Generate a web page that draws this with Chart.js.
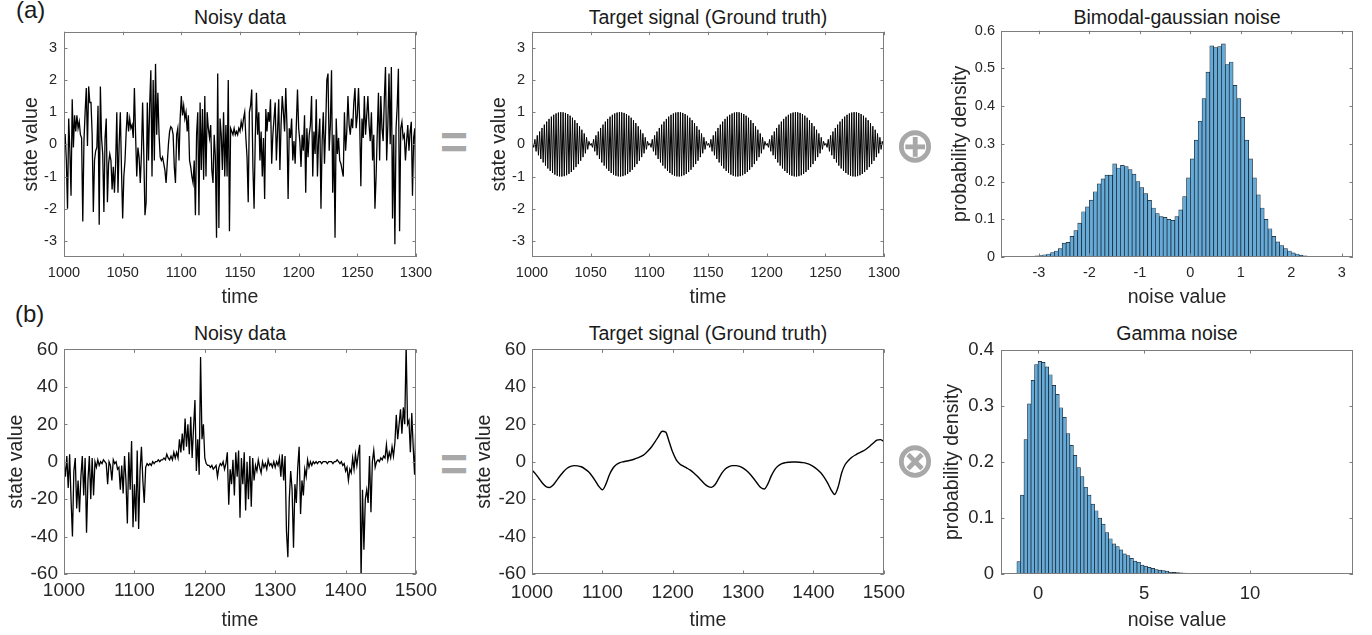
<!DOCTYPE html>
<html>
<head>
<meta charset="utf-8">
<script src="https://cdn.jsdelivr.net/npm/chart.js@4.4.0/dist/chart.umd.min.js"></script>
<style>
  html, body { margin: 0; padding: 0; background: #fff; }
  #fig { position: relative; width: 1372px; height: 635px; overflow: hidden;
         font-family: "Liberation Sans", Arial, Helvetica, sans-serif; color: #1a1a1a; }
  #fig canvas { position: absolute; }
  .lbl { position: absolute; white-space: nowrap; line-height: 1; }
  .title { font-size: 19.5px; transform: translateX(-50%); }
  .tag { font-size: 24px; }
  .op { color: #a8a8a8; transform: translate(-50%, -50%); }
</style>
</head>
<body>
<div id="fig">
  <div class="lbl tag" style="left:16px; top:-2px;">(a)</div>
  <div class="lbl tag" style="left:15px; top:302px;">(b)</div>

  <div class="lbl title" style="left:240px; top:8px;">Noisy data</div>
  <div class="lbl title" style="left:708px; top:8px;">Target signal (Ground truth)</div>
  <div class="lbl title" style="left:1177px; top:8px;">Bimodal-gaussian noise</div>
  <div class="lbl title" style="left:240px; top:324px;">Noisy data</div>
  <div class="lbl title" style="left:708px; top:324px;">Target signal (Ground truth)</div>
  <div class="lbl title" style="left:1177px; top:324px;">Gamma noise</div>

  <div class="lbl op" style="left:454px; top:143px; font-size:48px; font-weight:bold;">=</div>
  <div class="lbl op" style="left:454px; top:465px; font-size:48px; font-weight:bold;">=</div>
  <div class="lbl op" style="left:915px; top:145px; font-size:49px; font-family:'DejaVu Sans'; font-weight:bold;">⊕</div>
  <div class="lbl op" style="left:915px; top:460px; font-size:49px; font-family:'DejaVu Sans'; font-weight:bold;">⊗</div>
</div>
<script>
// (a) noisy data, one sample per time step from t = 1000
const noisyAStart = 1000, noisyAStep = 1;
const noisyA = [
  0.3, 0.3, -0.5, -2.0, 0.8, -0.2, -1.6, 1.4, -0.1, 0.9,
  0.4, 0.9, 0.5, 0.7, 0.3, 0.2, -2.4, 0.1, 1.0, 1.75,
  -0.05, 1.8, 1.3, 1.3, 0.3, -2.1, -0.5, -0.2, -0.1, 1.2,
  -2.5, 1.8, 0.2, -0.3, -2.1, 0.2, 0.8, -1.8, -0.6, -0.3,
  -0.5, -1.4, -0.7, -1.5, -0.6, 1.0, -1.5, 0.0, 1.0, -0.8,
  -2.3, -1.0, -0.5, 0.4, 1.0, 0.4, 0.8, 0.5, 0.6, 0.2,
  1.75, 0.3, -1.0, -0.1, -0.4, -1.2, -0.3, 1.3, -0.3, -2.2,
  -1.8, 1.3, -0.5, 1.2, 2.3, -1.0, 2.0, -0.5, 2.5, 0.3,
  1.6, 0.3, -0.4, -0.5, -0.4, -0.6, -0.8, -1.2, -0.6, 0.0,
  0.4, 0.55, 0.5, 0.3, -0.7, -1.2, 0.3, 0.5, -0.5, 0.8,
  1.5, 0.9, 1.2, 0.8, 1.0, 0.4, 0.9, -0.5, -0.7, -1.0,
  -1.2, -0.5, -2.2, 0.3, 1.0, -2.2, 1.3, -0.8, 1.1, -1.1,
  1.5, -1.0, 1.0, 0.5, 0.2, 0.6, -0.8, -1.2, 0.3, -0.4,
  -2.9, 2.2, -2.6, 0.8, 0.3, -0.8, 1.0, -1.0, 0.6, -1.0,
  2.0, -2.7, 0.5, 0.4, 0.3, 0.5, 0.3, 0.4, 0.3, 0.5,
  0.4, 0.7, 0.5, 0.8, 1.0, 0.2, -0.4, -1.8, 1.0, 1.2,
  1.7, -0.7, -2.0, 0.2, 1.6, 0.3, 1.0, -0.5, 0.4, -1.0,
  0.2, -1.7, 1.1, 0.4, 1.0, 0.7, 1.4, -0.6, 0.3, 0.8,
  1.3, -0.5, 0.4, 1.4, -0.8, 0.6, 1.5, 1.0, 0.4, 1.75,
  0.6, -1.7, 0.5, 0.2, 0.8, -0.5, 0.1, -0.6, 0.6, 1.7,
  0.5, 0.1, -0.7, 0.3, -0.2, 0.9, -1.5, 0.5, -0.4, 0.3,
  0.6, 1.5, -1.0, 0.4, -0.3, 1.4, -1.0, 0.2, 0.8, -2.0,
  0.1, 1.0, -0.6, 0.5, 2.0, 2.2, -0.2, 0.6, 2.3, -1.5,
  0.3, -2.9, 0.8, -0.3, 0.2, -0.5, -0.6, -0.8, -1.0, 1.0,
  -0.2, 0.4, 1.5, 0.6, 0.3, 0.8, 0.5, 1.3, 1.75, 0.5,
  0.9, 1.75, 0.7, -1.3, 0.8, 0.2, 1.5, 0.3, 0.9, 1.5,
  0.6, 0.1, 1.0, -0.5, 0.3, -2.0, -1.0, 0.4, 1.6, -0.5,
  1.5, 0.5, 0.1, 1.4, 2.4, -0.5, 0.6, 2.2, 0.0, 2.4,
  -2.3, 0.3, -3.1, 0.5, 1.2, 2.35, -2.7, 0.5, 0.7, 0.2,
  0.3, -0.5, 0.1, 0.6, -0.2, 0.4, 0.7, -1.6, 0.2, 0.5,
  -1.9
];

// (a) target signal: one sample per time step from t = 1000.5, six lobes of 50 samples
const targetAStart = 1000.5, targetAStep = 1;
const targetA = [
  0.031, -0.094, 0.156, -0.218, 0.279, -0.339, 0.397, -0.454, 0.509, -0.562, 0.613, -0.661, 0.707, -0.75, 0.79, -0.827, 0.861, -0.891, 0.918, -0.941, 0.96, -0.976, 0.988, -0.996, 1.0,
  -1.0, 0.996, -0.988, 0.976, -0.96, 0.941, -0.918, 0.891, -0.861, 0.827, -0.79, 0.75, -0.707, 0.661, -0.613, 0.562, -0.509, 0.454, -0.397, 0.339, -0.279, 0.218, -0.156, 0.094, -0.031,
  0.031, -0.094, 0.156, -0.218, 0.279, -0.339, 0.397, -0.454, 0.509, -0.562, 0.613, -0.661, 0.707, -0.75, 0.79, -0.827, 0.861, -0.891, 0.918, -0.941, 0.96, -0.976, 0.988, -0.996, 1.0,
  -1.0, 0.996, -0.988, 0.976, -0.96, 0.941, -0.918, 0.891, -0.861, 0.827, -0.79, 0.75, -0.707, 0.661, -0.613, 0.562, -0.509, 0.454, -0.397, 0.339, -0.279, 0.218, -0.156, 0.094, -0.031,
  0.031, -0.094, 0.156, -0.218, 0.279, -0.339, 0.397, -0.454, 0.509, -0.562, 0.613, -0.661, 0.707, -0.75, 0.79, -0.827, 0.861, -0.891, 0.918, -0.941, 0.96, -0.976, 0.988, -0.996, 1.0,
  -1.0, 0.996, -0.988, 0.976, -0.96, 0.941, -0.918, 0.891, -0.861, 0.827, -0.79, 0.75, -0.707, 0.661, -0.613, 0.562, -0.509, 0.454, -0.397, 0.339, -0.279, 0.218, -0.156, 0.094, -0.031,
  0.031, -0.094, 0.156, -0.218, 0.279, -0.339, 0.397, -0.454, 0.509, -0.562, 0.613, -0.661, 0.707, -0.75, 0.79, -0.827, 0.861, -0.891, 0.918, -0.941, 0.96, -0.976, 0.988, -0.996, 1.0,
  -1.0, 0.996, -0.988, 0.976, -0.96, 0.941, -0.918, 0.891, -0.861, 0.827, -0.79, 0.75, -0.707, 0.661, -0.613, 0.562, -0.509, 0.454, -0.397, 0.339, -0.279, 0.218, -0.156, 0.094, -0.031,
  0.031, -0.094, 0.156, -0.218, 0.279, -0.339, 0.397, -0.454, 0.509, -0.562, 0.613, -0.661, 0.707, -0.75, 0.79, -0.827, 0.861, -0.891, 0.918, -0.941, 0.96, -0.976, 0.988, -0.996, 1.0,
  -1.0, 0.996, -0.988, 0.976, -0.96, 0.941, -0.918, 0.891, -0.861, 0.827, -0.79, 0.75, -0.707, 0.661, -0.613, 0.562, -0.509, 0.454, -0.397, 0.339, -0.279, 0.218, -0.156, 0.094, -0.031,
  0.031, -0.094, 0.156, -0.218, 0.279, -0.339, 0.397, -0.454, 0.509, -0.562, 0.613, -0.661, 0.707, -0.75, 0.79, -0.827, 0.861, -0.891, 0.918, -0.941, 0.96, -0.976, 0.988, -0.996, 1.0,
  -1.0, 0.996, -0.988, 0.976, -0.96, 0.941, -0.918, 0.891, -0.861, 0.827, -0.79, 0.75, -0.707, 0.661, -0.613, 0.562, -0.509, 0.454, -0.397, 0.339, -0.279, 0.218, -0.156, 0.094, -0.031
];

// (a) bimodal noise histogram, bins of width 1/13 starting at -44/13
const bimodalBinStart = -44 / 13, bimodalBinWidth = 1 / 13;
const bimodalDensity = [
  0.0005, 0.001, 0.001, 0.002, 0.003, 0.004, 0.006, 0.008, 0.012, 0.016,
  0.022, 0.037, 0.039, 0.055, 0.07, 0.09, 0.12, 0.133, 0.151, 0.173,
  0.194, 0.207, 0.217, 0.217, 0.247, 0.236, 0.243, 0.24, 0.232, 0.22,
  0.2, 0.184, 0.168, 0.15, 0.13, 0.115, 0.107, 0.105, 0.1, 0.097,
  0.107, 0.125, 0.16, 0.21, 0.26, 0.31, 0.36, 0.42, 0.49, 0.56,
  0.555, 0.558, 0.565, 0.51, 0.517, 0.455, 0.42, 0.37, 0.31, 0.26,
  0.21, 0.165, 0.13, 0.1, 0.075, 0.055, 0.04, 0.03, 0.022, 0.016,
  0.011, 0.008, 0.005, 0.003, 0.002, 0.001
];

// (b) noisy data, one sample every 2 time steps from t = 1000
const noisyBStart = 1000, noisyBStep = 2;
const noisyB = [
  0, -8, 3, -14, 4, -20, -40, -5, 2, -25,
  -10, -27, -8, 3, -18, 2, -38, -10, 3, -20,
  2, -18, 0, -3, 1, -2, 0, -1, 1, 0,
  -1, -12, 0, -2, -10, 1, -1, 0, -4, -3,
  -15, -2, -17, 3, -10, -33, 5, -15, 11, -35,
  -12, -32, 6, -36, -5, 8, -10, -22, -3, -1,
  -2, -1, -2, 0, -1, 0, 0, 1, 0, 1,
  1, 2, 1, 4, 2, 1, 3, 1, 5, 2,
  5, 2, 12, 5, 15, 6, 23, 8, 20, 4,
  24, 2, 18, 33, -5, 12, -7, 56, 12, 20,
  2, -1, -2, -2, -3, -2, -4, -3, -2, -8,
  -3, -1, -2, 0, -4, -1, 5, -23, -4, -12,
  1, -18, 5, -8, 6, -30, 2, -12, 5, -26,
  0, -20, 3, -24, 2, -10, -2, -5, 1, -3,
  -6, 0, -3, -1, -4, 1, -2, -1, -3, 0,
  -3, 0, -2, 2, -8, 4, -10, 3, -37, -51,
  -20, -5, -15, -46, -12, -22, -3, 8, -28, -10,
  -18, -4, -8, 1, -3, 0, -2, 0, -1, 0,
  -1, 0, 0, -1, 0, 0, 0, -1, 0, 0,
  0, -1, 0, 0, 1, 0, -1, 0, -2, -1,
  -5, -3, -10, -4, -6, 2, -4, 4, -2, 4,
  9, -62, -15, -47, -20, -15, -22, 3, -27, 0,
  6, -3, 0, 1, 0, 2, 1, 3, 2, 9,
  1, 5, 2, 8, 3, 10, 25, 12, 20, 28,
  15, 29, 20, 62, 20, 22, 5, 26, 8, -7,
  24
];

// (b) target signal, one sample every 5 time steps from t = 1000
const targetBStart = 1000, targetBStep = 5;
const targetB = [
  -4.5, -6.5, -9, -11.5, -13.3, -13.8, -12.5, -10, -7.5, -5.2,
  -3.5, -2.5, -2.1, -2.2, -2.7, -3.8, -5.3, -7.5, -10.2, -13.2,
  -15, -12, -7, -3.5, -1.5, -0.5, 0.0, 0.4, 0.8, 1.3,
  2.0, 2.8, 4.0, 5.8, 8.0, 10.7, 13.7, 16.3, 15.8, 10.5,
  5.0, 1.0, -1.2, -2.4, -3.4, -4.5, -6.0, -7.8, -9.8, -11.8,
  -13.2, -13.7, -12.3, -9.2, -6.0, -3.8, -2.6, -2.1, -2.1, -2.5,
  -3.4, -4.8, -6.7, -9.0, -11.5, -13.8, -14.6, -12.0, -7.6, -4.2,
  -2.2, -1.0, -0.5, -0.3, -0.2, -0.2, -0.3, -0.5, -0.9, -1.6,
  -2.6, -4.0, -5.8, -8.2, -11.3, -15.0, -17.5, -13.5, -6.0, -1.5,
  0.8, 2.5, 3.7, 4.7, 5.6, 6.8, 8.3, 10.0, 11.5, 11.8,
  10.8
];

// (b) gamma noise histogram, bins of width 1/6 starting at -1
const gammaBinStart = -1, gammaBinWidth = 1 / 6;
const gammaDensity = [
  0.022, 0.141, 0.24, 0.304, 0.346, 0.374, 0.38, 0.378, 0.37, 0.356,
  0.337, 0.321, 0.297, 0.28, 0.251, 0.23, 0.212, 0.19, 0.174, 0.155,
  0.141, 0.125, 0.113, 0.1, 0.089, 0.074, 0.063, 0.054, 0.049, 0.043,
  0.036, 0.033, 0.028, 0.023, 0.021, 0.016, 0.014, 0.012, 0.01, 0.008,
  0.007, 0.006, 0.005, 0.0035, 0.003, 0.0025, 0.002, 0.0016, 0.0013, 0.001,
  0.0008, 0.0007, 0.0005, 0.0004, 0.0003, 0.0003, 0.0002, 0.0002, 0.0001
];

// tick labels
const timeTicksA = [1000, 1050, 1100, 1150, 1200, 1250, 1300];
const stateTicksA = [-3, -2, -1, 0, 1, 2, 3];
const noiseTicksA = [-3, -2, -1, 0, 1, 2, 3];
const densityTicksA = [0, 0.1, 0.2, 0.3, 0.4, 0.5, 0.6];
const timeTicksB = [1000, 1100, 1200, 1300, 1400, 1500];
const stateTicksB = [-60, -40, -20, 0, 20, 40, 60];
const noiseTicksB = [0, 5, 10];
const densityTicksB = [0, 0.1, 0.2, 0.3, 0.4];

const FONT = '"Liberation Sans", Arial, Helvetica, sans-serif';
const fig = document.getElementById('fig');

const series = (vals, start, step) => vals.map((v, i) => ({ x: start + i * step, y: v }));
const bins = (vals, start, w) => vals.map((v, i) => ({ x: start + (i + 0.5) * w, y: v }));

// matlab style box with inward ticks on all four sides
const framePlugin = {
  id: 'frame',
  afterDatasetsDraw(chart) {
    const { ctx, chartArea: a, scales: { x, y } } = chart;
    const L = 3.5;
    ctx.save();
    ctx.strokeStyle = '#7d7d7d';
    ctx.lineWidth = 1;
    ctx.beginPath();
    x.ticks.forEach(t => {
      const px = Math.round(x.getPixelForValue(t.value)) + 0.5;
      ctx.moveTo(px, a.bottom); ctx.lineTo(px, a.bottom - L);
      ctx.moveTo(px, a.top); ctx.lineTo(px, a.top + L);
    });
    y.ticks.forEach(t => {
      const py = Math.round(y.getPixelForValue(t.value)) + 0.5;
      ctx.moveTo(a.left, py); ctx.lineTo(a.left + L, py);
      ctx.moveTo(a.right, py); ctx.lineTo(a.right - L, py);
    });
    ctx.stroke();
    ctx.strokeRect(Math.round(a.left) + 0.5, Math.round(a.top) + 0.5,
                   Math.round(a.right - a.left) - 1, Math.round(a.bottom - a.top) - 1);
    ctx.restore();
  }
};

function panel(o) {
  const [pl, pt, pr, pb] = o.plot;
  const titleSize = 19.5;
  const cl = Math.round(o.yTitleX - titleSize / 2);
  const ct = pt - 14, cr = pr + 28;
  const cb = Math.round(o.xTitleY + titleSize / 2);
  const cv = document.createElement('canvas');
  cv.width = cr - cl; cv.height = cb - ct;
  cv.style.left = cl + 'px'; cv.style.top = ct + 'px';
  fig.appendChild(cv);

  const tickFont = { family: FONT, size: o.tickSize };
  const titleFont = { family: FONT, size: titleSize, lineHeight: 1 };
  const axis = (min, max, ticks, pad, text, fit) => ({
    type: 'linear', offset: false, min, max,
    afterBuildTicks: s => { s.ticks = ticks.map(v => ({ value: v })); },
    afterFit: fit,
    grid: { display: false, drawTicks: false },
    border: { display: false },
    ticks: { font: tickFont, color: '#262626', padding: pad, maxRotation: 0, autoSkip: false,
             callback: v => String(v) },
    title: { display: true, text, font: titleFont, color: '#262626', padding: 0 }
  });

  new Chart(cv, {
    type: o.type,
    data: { datasets: [o.dataset] },
    options: {
      responsive: false, animation: false, events: [],
      layout: { padding: { left: 0, top: pt - ct, right: cr - pr, bottom: 0 } },
      plugins: { legend: { display: false }, tooltip: { enabled: false } },
      scales: {
        x: axis(o.xMin, o.xMax, o.xTicks, o.xPad, o.xTitle, s => { s.height = cb - pb; }),
        y: axis(o.yMin, o.yMax, o.yTicks, o.yPad, o.yTitle, s => { s.width = pl - cl; })
      }
    },
    plugins: [framePlugin]
  });
}

const lineSet = (data, width, smooth) => ({
  data, borderColor: '#000', borderWidth: width, pointRadius: 0, fill: false,
  tension: smooth ? 0.4 : 0, cubicInterpolationMode: smooth ? 'monotone' : 'default'
});
const barSet = data => ({
  data, backgroundColor: '#66aad7', borderColor: '#14202c', borderWidth: 0.7,
  barPercentage: 1, categoryPercentage: 1, borderSkipped: 'start'
});

// row (a)
panel({ type: 'line', plot: [64, 30, 416, 257], yTitleX: 32, xTitleY: 297, tickSize: 14.5,
  xMin: 1000, xMax: 1300, xTicks: timeTicksA, xPad: 7, xTitle: 'time',
  yMin: -3.5, yMax: 3.5, yTicks: stateTicksA, yPad: 7, yTitle: 'state value',
  dataset: lineSet(series(noisyA, noisyAStart, noisyAStep), 1.3) });
panel({ type: 'line', plot: [532, 30, 884, 257], yTitleX: 500, xTitleY: 297, tickSize: 14.5,
  xMin: 1000, xMax: 1300, xTicks: timeTicksA, xPad: 7, xTitle: 'time',
  yMin: -3.5, yMax: 3.5, yTicks: stateTicksA, yPad: 7, yTitle: 'state value',
  dataset: lineSet(series(targetA, targetAStart, targetAStep), 1) });
panel({ type: 'bar', plot: [1001, 30, 1353, 257], yTitleX: 961, xTitleY: 297, tickSize: 14.5,
  xMin: -3.75, xMax: 3.22, xTicks: noiseTicksA, xPad: 7, xTitle: 'noise value',
  yMin: 0, yMax: 0.6, yTicks: densityTicksA, yPad: 6, yTitle: 'probability density',
  dataset: barSet(bins(bimodalDensity, bimodalBinStart, bimodalBinWidth)) });

// row (b)
panel({ type: 'line', plot: [64, 346, 416, 574], yTitleX: 17, xTitleY: 620, tickSize: 19,
  xMin: 1000, xMax: 1500, xTicks: timeTicksB, xPad: 5, xTitle: 'time',
  yMin: -60, yMax: 60, yTicks: stateTicksB, yPad: 6, yTitle: 'state value',
  dataset: lineSet(series(noisyB, noisyBStart, noisyBStep), 1.3) });
panel({ type: 'line', plot: [532, 346, 884, 574], yTitleX: 485, xTitleY: 620, tickSize: 19,
  xMin: 1000, xMax: 1500, xTicks: timeTicksB, xPad: 7, xTitle: 'time',
  yMin: -60, yMax: 60, yTicks: stateTicksB, yPad: 6, yTitle: 'state value',
  dataset: lineSet(series(targetB, targetBStart, targetBStep), 1.4, true) });
panel({ type: 'bar', plot: [1001, 346, 1353, 574], yTitleX: 953, xTitleY: 620, tickSize: 18.5,
  xMin: -1.75, xMax: 14.86, xTicks: noiseTicksB, xPad: 9, xTitle: 'noise value',
  yMin: 0, yMax: 0.4, yTicks: densityTicksB, yPad: 7, yTitle: 'probability density',
  dataset: barSet(bins(gammaDensity, gammaBinStart, gammaBinWidth)) });
</script>
</body>
</html>
